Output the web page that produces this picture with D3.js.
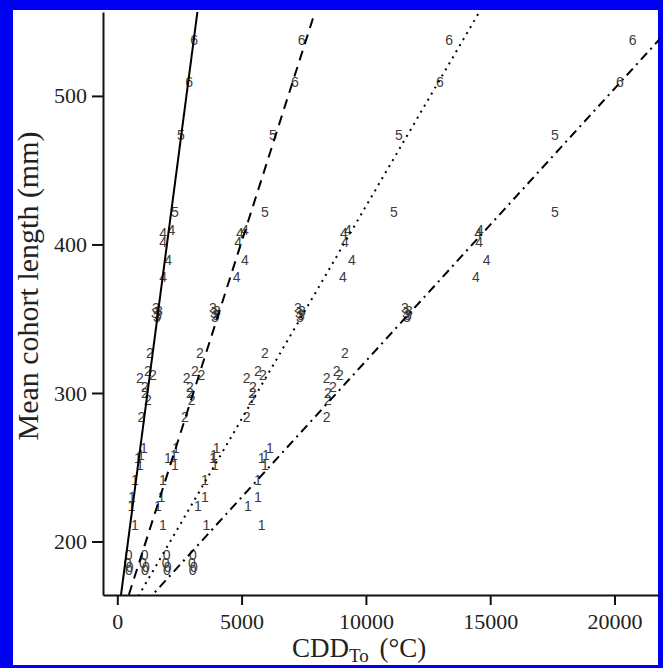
<!DOCTYPE html>
<html>
<head>
<meta charset="utf-8">
<script src="https://cdn.jsdelivr.net/npm/d3@7"></script>
<style>
  body { margin: 0; background: #fff; }
  svg { display: block; }
</style>
</head>
<body>
<svg width="663" height="668"></svg>
<script>
// cohort age shown as the plotted digit, one entry per cohort point
const ages = [0, 0, 0, 0,
  1, 1, 1, 1, 1, 1, 1, 1,
  2, 2, 2, 2, 2, 2, 2, 2,
  3, 3, 3, 3, 3,
  4, 4, 4, 4, 4,
  5, 5,
  6, 6];

// mean cohort length (mm)
const lengths = [191, 185.5, 183, 181,
  263.0, 258.3, 256.3, 251.6, 241.5, 230.1, 224.0, 211.2,
  326.9, 314.8, 312.1, 310.1, 304.0, 300.0, 295.3, 283.9,
  357, 355.5, 354, 352.5, 351,
  409.6, 407.6, 401.5, 389.4, 378.0,
  473.5, 421.6,
  537.4, 509.1];

// cumulative degree days for each of the four threshold temperatures
const cddSolid = [460, 420, 500, 470,
  1066, 946, 825, 905, 704, 583, 571, 704,
  1308, 1227, 1429, 905, 1107, 1107, 1227, 974,
  1549, 1670, 1509, 1630, 1589,
  2181, 1843, 1843, 2044, 1843,
  2555, 2314,
  3090, 2889];
const cddDashed = [1100, 1030, 1150, 1110,
  2354, 2273, 2032, 2314, 1831, 1779, 1630, 1831,
  3320, 3119, 3388, 2785, 2917, 2917, 2986, 2716,
  3843, 4004, 3883, 3964, 3924,
  5131, 4929, 4861, 5131, 4797,
  6258, 5936,
  7412, 7143];
const cddDotted = [1990, 1950, 2030, 2000,
  3992, 3883, 3843, 3923, 3521, 3521, 3239, 3589,
  5936, 5654, 5855, 5199, 5453, 5441, 5400, 5199,
  7263, 7424, 7304, 7384, 7344,
  9275, 9114, 9154, 9436, 9074,
  11328, 11127,
  13352, 12978];
const cddDashDot = [3040, 3000, 3080, 3030,
  6137, 5976, 5803, 5936, 5654, 5654, 5251, 5803,
  9155, 8821, 8954, 8418, 8672, 8471, 8471, 8418,
  11570, 11731, 11610, 11691, 11650,
  14588, 14519, 14559, 14857, 14426,
  17605, 17605,
  20732, 20221];

// fitted lines: length = intercept + slope * CDD
const lineIntercepts = [145, 139.8, 139.0, 138.1];
const lineSlopes = [0.1277, 0.0524, 0.02867, 0.01834];
const lineDash = [null, "10,7", "2,5", "9,5,2,5"];

const xTicks = [0, 5000, 10000, 15000, 20000];
const yTicks = [200, 300, 400, 500];

let svg = d3.select("svg");

// blue frame
svg.append("rect").attr("width", 663).attr("height", 668).attr("fill", "#0000f0");
svg.append("rect").attr("x", 13).attr("y", 10).attr("width", 645).attr("height", 655).attr("fill", "#fff");

let x = d3.scaleLinear().domain([-575, 21830]).range([103, 660]);
let y = d3.scaleLinear().domain([164, 556.5]).range([595, 12]);

svg.append("clipPath").attr("id", "plot")
  .append("rect")
  .attr("x", 103).attr("y", 12)
  .attr("width", 557).attr("height", 583);

// digits
let groups = [cddSolid, cddDashed, cddDotted, cddDashDot];
let pts = [];
groups.forEach(function(g) {
  g.forEach(function(c, i) {
    pts.push({ cdd: c, len: lengths[i], age: ages[i] });
  });
});

svg.append("g")
  .attr("font-family", "'Liberation Sans', Arial, sans-serif")
  .attr("font-size", 14)
  .attr("fill", "#3c3c3c")
  .attr("text-anchor", "middle")
  .selectAll("text")
  .data(pts)
  .enter()
  .append("text")
  .attr("x", function(d) { return x(d.cdd); })
  .attr("y", function(d) { return y(d.len) + 5; })
  .text(function(d) { return d.age; });

// fitted lines
let xd = x.domain();
svg.append("g")
  .attr("clip-path", "url(#plot)")
  .selectAll("line")
  .data(lineSlopes)
  .enter()
  .append("line")
  .attr("x1", x(xd[0]))
  .attr("x2", x(xd[1]))
  .attr("y1", function(d, i) { return y(lineIntercepts[i] + d * xd[0]); })
  .attr("y2", function(d, i) { return y(lineIntercepts[i] + d * xd[1]); })
  .attr("stroke", "#000")
  .attr("stroke-width", 2)
  .attr("stroke-dasharray", function(d, i) { return lineDash[i]; });

// axes
let xAxis = svg.append("g")
  .attr("transform", "translate(0,595)")
  .call(d3.axisBottom(x).tickValues(xTicks).tickSize(10).tickSizeOuter(0).tickFormat(d3.format("d")));
let yAxis = svg.append("g")
  .attr("transform", "translate(103,0)")
  .call(d3.axisLeft(y).tickValues(yTicks).tickSize(11).tickSizeOuter(0));

[xAxis, yAxis].forEach(function(a) {
  a.selectAll("path, line").attr("stroke", "#111").attr("stroke-width", 2);
  a.selectAll("text")
    .attr("font-family", "'Liberation Serif', 'Times New Roman', serif")
    .attr("font-size", 22)
    .attr("fill", "#222");
});
xAxis.selectAll("text").attr("dy", "0.95em").attr("y", 13);
yAxis.selectAll("text").attr("x", -16);

// axis titles
let xl = svg.append("text")
  .attr("x", 292)
  .attr("y", 657)
  .attr("font-family", "'Liberation Serif', 'Times New Roman', serif")
  .attr("font-size", 27)
  .attr("fill", "#222");
xl.append("tspan").text("CDD");
xl.append("tspan").attr("font-size", 19).attr("dy", 5).text("To");
xl.append("tspan").attr("dy", -5).attr("dx", 4).text(" (°C)");

svg.append("text")
  .attr("transform", "translate(38,286) rotate(-90)")
  .attr("text-anchor", "middle")
  .attr("font-family", "'Liberation Serif', 'Times New Roman', serif")
  .attr("font-size", 30)
  .attr("fill", "#222")
  .text("Mean cohort length (mm)");
</script>
</body>
</html>
